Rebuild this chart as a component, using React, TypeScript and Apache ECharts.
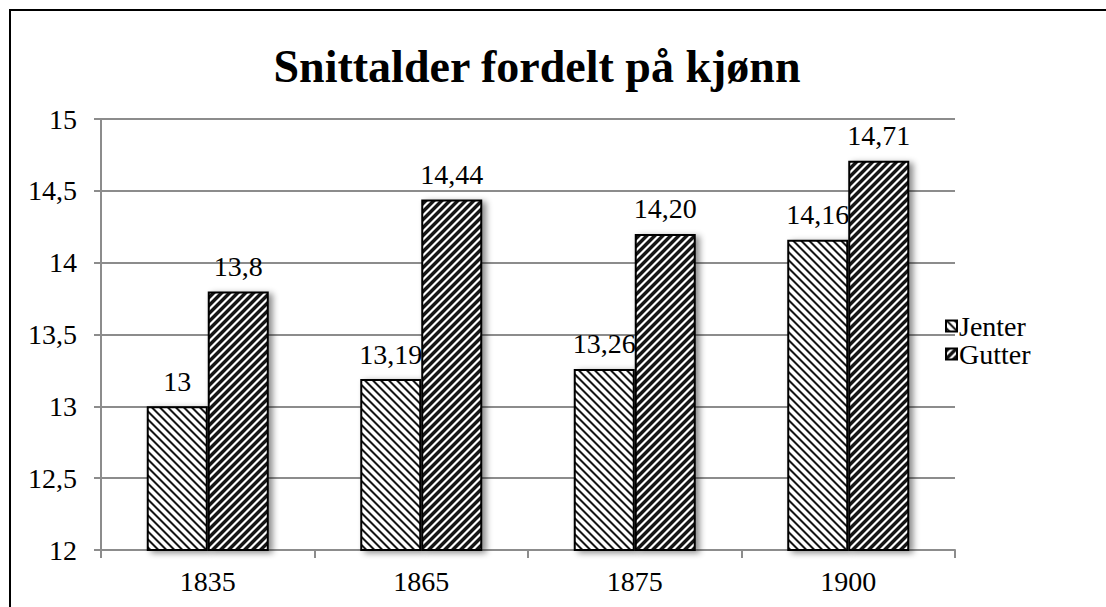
import React, { useEffect, useRef } from "react";
import * as echarts from "echarts";

const categories = ["1835", "1865", "1875", "1900"];
const jenterValues = [13, 13.19, 13.26, 14.16];
const gutterValues = [13.8, 14.44, 14.2, 14.71];
const jenterLabels = ["13", "13,19", "13,26", "14,16"];
const gutterLabels = ["13,8", "14,44", "14,20", "14,71"];
const seriesNames = ["Jenter", "Gutter"];
const titleText = "Snittalder fordelt på kjønn";

const FONT = "'Liberation Serif', serif";

function makePattern(dir: "down" | "up", dark: number) {
  const p = 8;
  const c = document.createElement("canvas");
  c.width = p;
  c.height = p;
  const ctx = c.getContext("2d")!;
  const img = ctx.createImageData(p, p);
  for (let y = 0; y < p; y++) {
    for (let x = 0; x < p; x++) {
      const d = (((dir === "down" ? x - y : x + y) % p) + p) % p;
      let v = 255;
      if (d < dark) v = 20;
      else if (d === dark || d === p - 1) v = 150;
      const i = (y * p + x) * 4;
      img.data[i] = v;
      img.data[i + 1] = v;
      img.data[i + 2] = v;
      img.data[i + 3] = 255;
    }
  }
  ctx.putImageData(img, 0, 0);
  return { image: c, repeat: "repeat", imageWidth: p, imageHeight: p } as any;
}

export default function App() {
  const ref = useRef<HTMLDivElement>(null);
  useEffect(() => {
    const chart = echarts.init(ref.current!, null, { renderer: "svg" });
    const jPat = makePattern("down", 2);
    const gPat = makePattern("up", 4);
    const shadow = {
      shadowBlur: 6,
      shadowColor: "rgba(0,0,0,0.45)",
      shadowOffsetX: 4,
      shadowOffsetY: 2,
    };
    const labelStyle = {
      show: true,
      position: "top" as const,
      distance: 11,
      fontFamily: FONT,
      fontSize: 28,
      color: "#000",
    };
    chart.setOption({
      animation: false,
      backgroundColor: "#fff",
      graphic: [
        {
          type: "rect",
          shape: { x: 10, y: 10, width: 1200, height: 700 },
          style: { fill: "none", stroke: "#000", lineWidth: 2 },
          silent: true,
        },
        {
          type: "text",
          x: 537,
          y: 66,
          style: {
            text: titleText,
            fontFamily: FONT,
            fontWeight: "bold",
            fontSize: 46,
            fill: "#000",
            textAlign: "center",
            textVerticalAlign: "middle",
          },
        },
      ],
      legend: {
        orient: "vertical",
        left: 940,
        top: 307,
        itemWidth: 11,
        itemHeight: 11,
        itemGap: 0,
        icon: "rect",
        data: seriesNames,
        textStyle: { fontFamily: FONT, fontSize: 28, color: "#000", padding: [0, 0, 0, -3] },
      },
      grid: { left: 101, right: 151, top: 119, bottom: 57 },
      xAxis: {
        type: "category",
        data: categories,
        boundaryGap: true,
        axisLine: { lineStyle: { color: "#8c8c8c", width: 2 } },
        axisTick: { show: true, length: 8, lineStyle: { color: "#8c8c8c", width: 2 } },
        axisLabel: { fontFamily: FONT, fontSize: 28, color: "#000", margin: 17 },
      },
      yAxis: {
        type: "value",
        min: 12,
        max: 15,
        interval: 0.5,
        axisLine: { show: true, lineStyle: { color: "#8c8c8c", width: 2 } },
        axisTick: { show: true, length: 7, lineStyle: { color: "#8c8c8c", width: 2 } },
        splitLine: { lineStyle: { color: "#8c8c8c", width: 2 } },
        axisLabel: {
          fontFamily: FONT,
          fontSize: 28,
          color: "#000",
          margin: 24,
          formatter: (v: number) => String(v).replace(".", ","),
        },
      },
      series: [
        {
          name: seriesNames[0],
          type: "bar",
          data: jenterValues,
          barWidth: 61,
          barGap: "0%",
          itemStyle: { color: jPat, borderColor: "#000", borderWidth: 2, ...shadow },
          label: { ...labelStyle, formatter: (p: any) => jenterLabels[p.dataIndex] },
        },
        {
          name: seriesNames[1],
          type: "bar",
          data: gutterValues,
          barWidth: 61,
          barGap: "0%",
          itemStyle: { color: gPat, borderColor: "#000", borderWidth: 2, ...shadow },
          label: { ...labelStyle, formatter: (p: any) => gutterLabels[p.dataIndex] },
        },
      ],
    });
    return () => chart.dispose();
  }, []);
  return (
    <div
      ref={ref}
      style={{ position: "absolute", left: 0, top: 0, width: 1106, height: 607 }}
    />
  );
}
